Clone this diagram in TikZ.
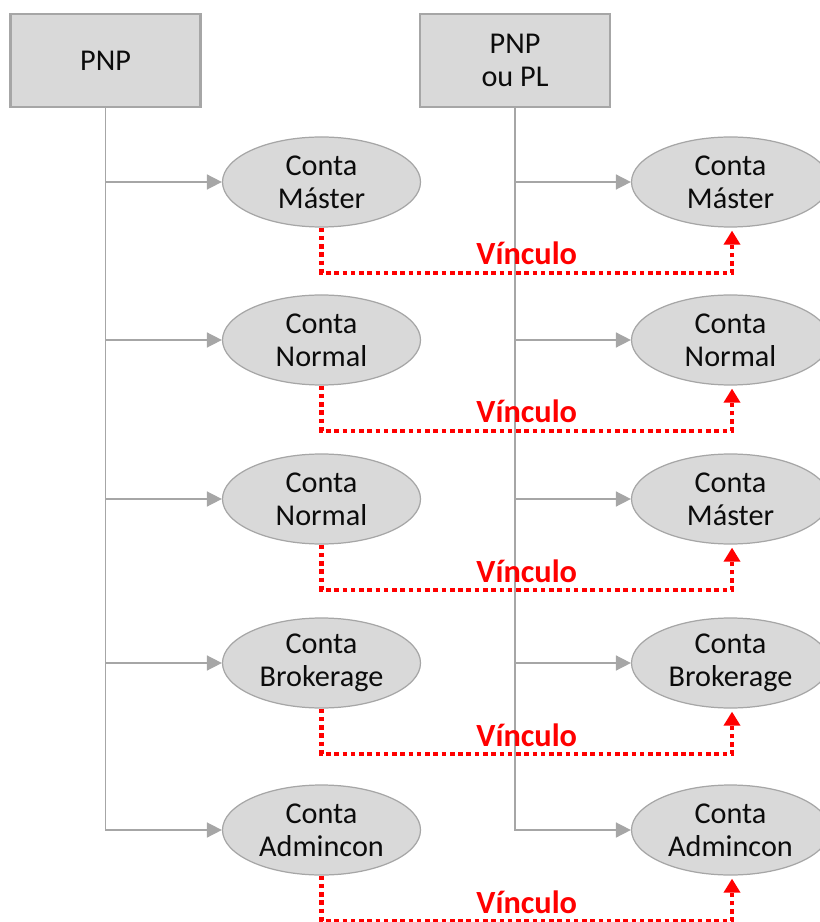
\documentclass[tikz,border=0pt]{standalone}
\usepackage{fontspec}
\setmainfont{Carlito}
\usetikzlibrary{arrows.meta,shapes.geometric}
\definecolor{boxgray}{HTML}{D9D9D9}
\definecolor{edgegray}{HTML}{A6A6A6}
\definecolor{inkgray}{HTML}{0C0C0C}
\tikzset{
	holder/.style={draw=edgegray, fill=boxgray, rectangle, line width=0.6pt,
		minimum width=1.9cm, minimum height=0.93cm, align=center, text=inkgray,
		font=\fontsize{8.6}{9.4}\selectfont},
	account/.style={draw=edgegray, fill=boxgray, ellipse, line width=0.35pt,
		minimum width=1.98cm, minimum height=0.9cm, inner sep=0pt, align=center,
		text=inkgray, font=\fontsize{8.6}{9.4}\selectfont},
	branch/.style={draw=edgegray, line width=0.45pt, -{Triangle[length=1.5mm,width=1.5mm]}},
	vinculo/.style={draw=red, line width=1.2pt, dash pattern=on 1.3pt off 1.05pt,
		shorten >=0.3mm, -{Triangle[length=1.4mm,width=1.6mm]}},
	tag/.style={text=red, inner sep=1.5pt, font=\bfseries\fontsize{9.2}{10}\selectfont}
}
\begin{document}
\begin{tikzpicture}
	\useasboundingbox (0,0) rectangle (8.19,-9.22);
	
	%Holders
	\node (pnp) at (1.055,-0.605) [holder]{PNP};
	\node (pnpl) at (5.15,-0.605) [holder]{PNP\\ou PL};
	
	%Accounts of the first holder
	\node (l1) at (3.215,-1.82) [account]{Conta\\Máster};
	\node (l2) at (3.215,-3.40) [account]{Conta\\Normal};
	\node (l3) at (3.215,-4.99) [account]{Conta\\Normal};
	\node (l4) at (3.215,-6.63) [account]{Conta\\Brokerage};
	\node (l5) at (3.215,-8.30) [account]{Conta\\Admincon};
	
	%Accounts of the second holder
	\node (r1) at (7.305,-1.82) [account]{Conta\\Máster};
	\node (r2) at (7.305,-3.40) [account]{Conta\\Normal};
	\node (r3) at (7.305,-4.99) [account]{Conta\\Máster};
	\node (r4) at (7.305,-6.63) [account]{Conta\\Brokerage};
	\node (r5) at (7.305,-8.30) [account]{Conta\\Admincon};
	
	%Trees
	\draw[branch] (pnp) |- (l5);
	\draw[branch] (pnp |- l1) -- (l1);
	\draw[branch] (pnp |- l2) -- (l2);
	\draw[branch] (pnp |- l3) -- (l3);
	\draw[branch] (pnp |- l4) -- (l4);
	\draw[branch] (pnpl) |- (r5);
	\draw[branch] (pnpl |- r1) -- (r1);
	\draw[branch] (pnpl |- r2) -- (r2);
	\draw[branch] (pnpl |- r3) -- (r3);
	\draw[branch] (pnpl |- r4) -- (r4);
	
	%Links
	\draw[vinculo] (l1.south) -- ++(0,-0.45) coordinate (v1) -| node[tag, pos=0.25, above]{Vínculo} ([xshift=0.15mm]r1.south);
	\draw[vinculo] (l2.south) -- ++(0,-0.45) coordinate (v2) -| node[tag, pos=0.25, above]{Vínculo} ([xshift=0.15mm]r2.south);
	\draw[vinculo] (l3.south) -- ++(0,-0.45) coordinate (v3) -| node[tag, pos=0.25, above]{Vínculo} ([xshift=0.15mm]r3.south);
	\draw[vinculo] (l4.south) -- ++(0,-0.45) coordinate (v4) -| node[tag, pos=0.25, above]{Vínculo} ([xshift=0.15mm]r4.south);
	\draw[vinculo] (l5.south) -- ++(0,-0.45) coordinate (v5) -| node[tag, pos=0.25, above]{Vínculo} ([xshift=0.15mm]r5.south);
	
\end{tikzpicture}
\end{document}
